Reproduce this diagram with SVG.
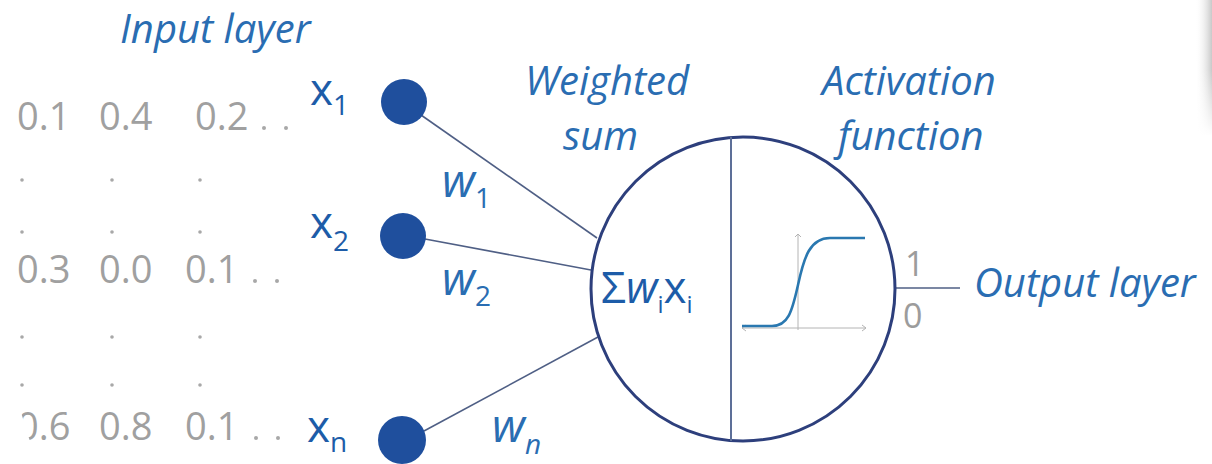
<svg xmlns="http://www.w3.org/2000/svg" width="1212" height="464" viewBox="0 0 1212 464">
<style>
.lbl{font-family:"Open Sans","Liberation Sans",sans-serif;font-style:italic;font-weight:500;fill:#2a6db2;font-size:40px}
.num{font-family:"Open Sans","Liberation Sans",sans-serif;fill:#a0a0a0;font-size:38px}
.dot{fill:#a8a8a8}
.xl{font-family:"Open Sans","Liberation Sans",sans-serif;fill:#1d5ca8;font-size:44px;font-weight:500}
.sub{font-size:28px}
.wl{font-family:"Open Sans","Liberation Sans",sans-serif;fill:#2a6db2;font-size:46px;font-style:italic;font-weight:500}
.node{fill:#1f4f9d}
.edge{stroke:#4f5f85;stroke-width:1.6;fill:none}
.g{font-family:"Open Sans","Liberation Sans",sans-serif;fill:#9c9c9c;font-size:34px}
</style>
<defs>
<linearGradient id="curl" x1="0" y1="0" x2="1" y2="0">
<stop offset="0" stop-color="#ffffff" stop-opacity="0"/>
<stop offset="1" stop-color="#c8c8c8"/>
</linearGradient>
<linearGradient id="curlFade" x1="0" y1="0" x2="0" y2="1">
<stop offset="0" stop-color="#fff" stop-opacity="0"/>
<stop offset="1" stop-color="#fff" stop-opacity="1"/>
</linearGradient>
</defs>
<rect width="1212" height="464" fill="#ffffff"/>
<polygon points="1195,0 1212,0 1212,135 1198,135" fill="url(#curl)"/>
<rect x="1190" y="70" width="22" height="66" fill="url(#curlFade)"/>

<g id="input-data">
<text class="num" x="17" y="130">0.1</text>
<text class="num" x="99" y="130">0.4</text>
<text class="num" x="195" y="130">0.2</text>
<text class="num" x="17" y="283">0.3</text>
<text class="num" x="99" y="283">0.0</text>
<text class="num" x="185" y="283">0.1</text>
<text class="num" x="17" y="440">0.6</text>
<text class="num" x="99" y="440">0.8</text>
<text class="num" x="185" y="440">0.1</text>
<g class="dot">
<circle cx="264" cy="128" r="2"/><circle cx="286" cy="128" r="2"/>
<circle cx="255" cy="281" r="2"/><circle cx="277" cy="281" r="2"/>
<circle cx="256" cy="438" r="2"/><circle cx="278" cy="438" r="2"/>
<circle cx="22" cy="180" r="1.8"/><circle cx="112" cy="180" r="1.8"/><circle cx="200" cy="180" r="1.8"/>
<circle cx="22" cy="232" r="1.8"/><circle cx="112" cy="232" r="1.8"/><circle cx="200" cy="232" r="1.8"/>
<circle cx="22" cy="337" r="1.8"/><circle cx="112" cy="337" r="1.8"/><circle cx="200" cy="337" r="1.8"/>
<circle cx="22" cy="385" r="1.8"/><circle cx="112" cy="385" r="1.8"/><circle cx="200" cy="385" r="1.8"/>
</g>
<polygon points="0,400 19,406 37,464 0,464" fill="#ffffff"/>
</g>

<text id="input-layer-label" class="lbl" x="120" y="43">Input layer</text>

<g id="connectors">
<line class="edge" x1="421" y1="115" x2="597" y2="238"/>
<line class="edge" x1="425" y1="239" x2="591" y2="270"/>
<line class="edge" x1="424" y1="431" x2="598" y2="337"/>
<line class="edge" x1="895" y1="288" x2="960" y2="288"/>
</g>

<g id="x1">
<circle class="node" cx="404" cy="102" r="23"/>
<text class="xl" x="310" y="105">x<tspan class="sub" dy="10">1</tspan></text>
</g>
<g id="x2">
<circle class="node" cx="403" cy="236" r="23"/>
<text class="xl" x="310" y="238">x<tspan class="sub" dy="13">2</tspan></text>
</g>
<g id="xn">
<circle class="node" cx="402" cy="440" r="24"/>
<text class="xl" x="307" y="442">x<tspan class="sub" dy="10">n</tspan></text>
</g>

<g id="weights">
<text class="wl" x="442" y="197">w<tspan class="sub" dy="11" font-style="normal">1</tspan></text>
<text class="wl" x="442" y="295">w<tspan class="sub" dy="11" font-style="normal">2</tspan></text>
<text class="wl" x="492" y="442">w<tspan class="sub" dy="12">n</tspan></text>
</g>

<g id="neuron">
<circle cx="743" cy="289" r="152" fill="none" stroke="#2d3f7c" stroke-width="3"/>
<line x1="731" y1="137" x2="731" y2="441" stroke="#5d6f98" stroke-width="2"/>
<text class="xl" x="601" y="303" font-size="42" fill="#2a6db2">Σ<tspan font-style="italic">w</tspan><tspan dy="10" font-size="24">i</tspan><tspan dy="-10">x</tspan><tspan dy="10" font-size="24">i</tspan></text>
<g stroke="#b4b4b4" stroke-width="1" fill="none">
<line x1="798" y1="234" x2="798" y2="330"/>
<line x1="742" y1="328" x2="866" y2="328"/>
<path d="M746,325 L742,328 L746,331"/>
<path d="M862,325 L866,328 L862,331"/>
<path d="M795,237 L798,234 L801,237"/>
</g>
<path d="M742,326 L772,326 C788,326 792,312 798,285 C804,257 810,238 830,238 L865,238" fill="none" stroke="#2a78b0" stroke-width="2.6"/>
</g>

<text id="weighted-sum-label" class="lbl"><tspan x="525" y="95">Weighted</tspan><tspan x="563" y="150">sum</tspan></text>
<text id="activation-label" class="lbl"><tspan x="822" y="95">Activation</tspan><tspan x="838" y="150">function</tspan></text>

<g id="output">
<text class="g" x="905" y="276">1</text>
<text class="g" x="903" y="328">0</text>
<text class="lbl" x="974" y="297" font-size="39">Output layer</text>
</g>
</svg>
